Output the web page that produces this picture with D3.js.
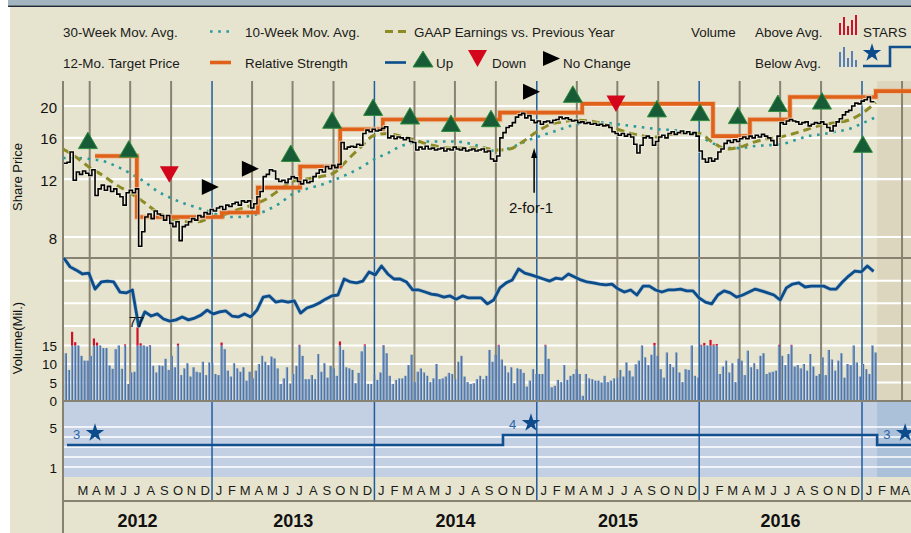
<!DOCTYPE html>
<html><head><meta charset="utf-8">
<script src="https://cdn.jsdelivr.net/npm/d3@7"></script>
<style>
body{margin:0;background:#fff}
svg{display:block}
text{font-family:"Liberation Sans",Arial,Helvetica,sans-serif}
</style>
</head><body>
<svg id="c" width="911" height="533"></svg>
<script>
// ---------------- DATA ----------------
const weekStart = "2012-02-03"; // weekly series (price, volume)
const weeklyClose = [
13.4,13.5,14.5,11.9,12.6,12.4,12.7,12.5,12.3,12.8,
10.7,11.2,11.5,11.1,11.4,11.0,11.2,10.8,10.6,10.0,
10.9,11.1,10.9,11.2,7.5,8.3,9.2,9.4,9.1,9.6,
9.4,9.3,9.0,9.3,8.8,8.6,8.9,7.8,8.6,8.7,
8.9,9.1,9.0,9.3,9.2,9.5,9.4,9.7,9.6,9.8,
9.9,9.7,10.0,9.9,10.1,10.2,10.0,10.3,10.2,10.3,
9.8,10.1,10.6,11.0,12.2,12.4,12.8,12.7,12.0,11.8,
11.9,11.7,12.0,12.2,12.1,11.8,11.6,11.9,11.7,11.8,
12.2,12.5,12.8,12.6,13.1,12.9,13.2,13.0,13.3,15.5,
14.8,15.0,15.1,15.0,15.3,15.2,16.5,16.9,16.7,17.0,
16.8,16.9,17.1,17.3,16.0,16.2,15.9,16.1,16.0,15.8,
16.0,15.6,15.5,14.7,15.0,14.8,15.1,14.8,14.9,14.7,
14.8,14.9,14.6,14.8,14.7,15.0,14.8,14.7,14.9,14.6,
14.7,14.8,14.6,14.7,14.8,14.5,14.6,13.8,13.6,14.1,
16.0,16.6,17.2,17.4,17.8,18.5,18.8,19.0,18.4,18.7,
18.1,17.8,18.0,17.6,17.9,18.0,17.8,18.1,18.2,18.5,
18.3,18.4,18.2,18.0,18.1,17.8,17.9,17.7,17.8,17.6,
17.7,17.5,17.6,17.4,17.5,17.2,16.7,16.5,16.3,16.5,
16.2,16.4,16.1,15.3,14.4,15.2,16.0,16.2,16.0,15.2,
15.6,16.1,16.3,16.0,16.5,16.7,16.4,16.6,16.8,16.5,
16.7,16.4,16.6,16.2,14.6,13.8,13.5,13.9,13.6,13.8,
14.5,14.8,15.4,15.7,15.5,15.8,15.6,15.9,16.1,15.9,
16.2,16.0,16.3,16.1,16.4,16.2,16.0,15.7,15.2,16.2,
17.8,17.6,18.0,18.2,18.0,17.9,17.6,17.8,17.9,17.4,
17.6,17.8,17.7,17.9,17.6,17.2,16.8,17.4,17.9,18.3,
18.8,19.2,19.4,20.0,20.4,20.3,20.7,20.9,21.3,20.6,20.5];
const weeklyVolume = [
12.9,8.4,18.7,15.9,15.0,12.2,10.9,10.9,12.2,16.9,15.8,15.0,14.3,14.3,9.6,8.7,14.0,15.0,8.7,15.3,
4.6,7.7,7.9,19.9,15.6,15.0,14.7,15.1,9.5,7.7,9.6,9.5,11.4,8.4,12.2,9.1,15.5,7.0,8.8,10.2,
6.6,9.1,7.9,7.7,10.6,7.0,10.4,10.2,7.3,7.0,15.8,14.0,8.2,6.6,10.2,8.8,7.9,9.1,5.5,7.9,
6.1,8.2,10.0,12.2,10.6,9.7,12.0,11.5,8.8,4.6,6.1,9.1,4.7,7.3,9.5,15.2,
12.2,5.9,5.9,7.0,5.9,12.7,7.9,10.2,6.3,9.5,8.8,6.8,16.1,13.8,9.1,8.8,8.4,4.8,7.6,13.4,
15.3,4.6,4.6,7.0,5.7,7.7,15.1,12.9,6.8,4.6,5.7,6.1,6.1,6.8,9.7,12.5,5.1,7.9,8.8,7.7,
6.8,5.1,6.1,10.0,5.9,6.1,6.6,7.6,7.3,5.9,10.6,12.2,6.6,5.1,4.6,4.8,5.9,6.8,5.9,6.8,
13.8,10.6,12.5,15.2,11.2,9.5,7.7,9.1,4.8,8.8,8.6,7.6,3.9,5.5,8.6,7.3,7.3,7.3,15.2,11.4,
3.7,4.1,5.7,5.1,9.7,5.7,6.8,7.3,8.6,7.3,1.4,7.3,6.1,5.9,5.5,5.5,
5.0,6.8,5.1,5.5,6.1,6.3,8.4,6.6,10.4,8.2,6.6,9.9,10.9,15.0,11.8,9.7,12.5,15.7,12.2,8.6,
6.3,13.1,10.0,9.1,13.1,7.7,5.1,8.6,8.4,15.0,6.8,6.3,15.2,15.7,15.0,16.5,15.3,15.4,7.3,9.3,
10.9,7.7,10.2,5.1,11.4,10.9,7.0,13.6,9.1,10.2,8.6,12.2,12.9,7.3,7.7,7.9,8.2,15.2,12.2,9.7,
12.7,15.2,9.3,9.7,8.8,10.0,8.2,12.7,9.3,6.8,7.3,11.8,7.0,13.8,11.2,8.2,10.9,12.9,6.3,10.0,
9.7,15.0,10.4,6.6,10.0,8.6,7.3,15.0,13.1];
const volumeCap = 15; // portion above drawn red (above avg.)

const rsStart = "2012-02-03"; // bi-weekly relative strength
const relStrength = [
100,97.0,95.9,94.6,94.9,89.5,91.9,92.2,91.9,88.5,
88.2,89.2,77.0,81.8,80.4,81.1,79.4,78.7,79.1,80.1,
79.1,79.7,80.7,82.4,81.1,81.8,82.1,80.4,80.1,81.1,
80.1,82.4,86.8,87.2,85.1,85.5,85.1,85.5,81.4,83.1,
83.8,84.8,86.1,87.2,87.5,92.9,91.9,91.6,92.2,95.3,
94.3,97.3,94.6,92.9,92.9,91.9,89.2,89.2,88.5,87.8,
87.5,86.8,87.2,86.1,87.2,86.5,86.5,86.5,84.5,85.8,
89.9,91.6,92.6,96.3,94.9,94.3,93.6,92.9,92.2,93.2,
92.9,94.6,93.6,92.6,91.9,91.6,91.2,90.9,91.2,89.5,
88.5,89.2,87.5,90.5,90.5,89.2,88.5,89.2,89.2,89.5,
88.9,88.9,86.5,85.1,84.5,87.5,88.9,88.2,86.8,87.5,
88.5,89.5,88.9,88.2,87.5,85.8,89.9,91.2,91.6,90.2,
90.5,90.5,90.5,89.5,89.5,91.9,93.9,95.6,95.3,97.3,95.5];
const rsLowLabel = "77";

const maStart = "2012-02-01"; // monthly moving averages
const movAvgSlow = [
13.9,13.9,13.8,13.6,13.1,12.5,11.8,11.0,10.5,10.1,9.8,9.5,
9.2,9.2,9.3,9.6,10.1,10.8,11.2,11.5,11.9,12.4,13.0,13.8,
14.4,15.1,15.5,15.6,15.6,15.6,15.4,15.0,14.6,14.9,15.5,16.1,
16.6,17.1,17.6,17.8,17.8,17.6,17.4,17.2,17.0,16.9,16.7,16.2,
15.4,14.9,14.9,15.1,15.2,15.3,15.7,16.2,16.4,16.7,17.0,17.7,18.5];
const movAvgFast = [
14.8,14.0,13.0,12.3,11.5,10.9,10.2,9.5,9.1,8.9,8.9,9.2,
9.4,9.7,10.0,10.4,11.1,11.8,12.0,12.2,12.5,13.7,15.0,16.3,
16.5,16.2,15.8,15.3,15.0,14.9,14.9,14.9,14.7,14.8,15.6,16.7,
17.6,17.9,18.1,18.0,17.6,17.0,16.5,16.2,16.1,16.4,16.6,16.5,
15.5,14.8,15.0,15.5,15.9,16.1,16.5,17.0,17.5,17.8,18.1,19.0,20.5];

const targetDates = ["2012-04-13","2012-07-16","2013-01-23","2013-04-14","2013-07-18","2013-10-16",
  "2014-01-20","2014-10-10","2015-04-13","2016-02-01","2016-04-24","2016-07-23","2017-02-01","2017-04-30"];
const targetValues = [14.1,9.2,9.5,11.3,13.1,17.0,18.2,19.1,20.3,16.2,18.2,21.3,22.2,22.2];

const markerDates = ["2012-03-28","2012-06-28","2012-09-27","2012-12-27","2013-03-27","2013-06-27",
  "2013-09-28","2013-12-29","2014-03-22","2014-06-22","2014-09-20","2014-12-19","2015-03-23",
  "2015-06-28","2015-09-28","2016-01-03","2016-03-28","2016-06-26","2016-10-03","2017-01-03"];
const markerTypes = ["up","up","down","none","none","up","up","up","up","up","up","none","up",
  "down","up","up","up","up","up","up"];
const markerPrices = [15.7,14.8,12.4,11.35,12.9,14.35,18.1,19.8,18.65,17.7,18.3,22.1,21.7,
  20.35,19.6,19.1,18.7,20.35,20.7,15.3];

const splitDate = "2014-12-26", splitLabel = "2-for-1", splitFrom = 10.9, splitTo = 14.9;

const starsDates = ["2012-02-10","2014-10-17","2017-02-04","2017-05-01"];
const starsValues = [3,4,3,3];
const forecastStart = "2017-02-04";

const priceTicks = [8,12,16,20];
const rsGrid = [92.3,84.7,77.0];
const volumeTicks = [0,5,10,15];
const starTicks = [1,5];
const starGrid = [1,2,3,4,5];
const monthLetters = ["J","F","M","A","M","J","J","A","S","O","N","D"];
const years = [2012,2013,2014,2015,2016];
const legendRow1 = ["30-Week Mov. Avg.","10-Week Mov. Avg.","GAAP Earnings vs. Previous Year","Volume","Above Avg.","STARS"];
const legendRow2 = ["12-Mo. Target Price","Relative Strength","Up","Down","No Change","Below Avg."];
const legendBarsAbove = [9,15,6,12,17];
const legendBarsBelow = [15,20,9,16,7];

// ---------------- SCALES ----------------
const parse = d3.utcParse("%Y-%m-%d");
const svg = d3.select("#c");
const x = d3.scaleUtc().domain([parse("2012-02-01"), parse("2017-01-01")]).range([63, 862]);
const yP = d3.scaleLog().domain([8, 20]).range([237, 106]);
const yRS = d3.scaleLinear().domain([75, 100]).range([332, 258]);
const yV = d3.scaleLinear().domain([0, 15]).range([401, 345.5]);
const yS = d3.scaleLinear().domain([1, 5]).range([467, 427]);
const L = 63, R = 911;
const P0 = 81, P1 = 258, V1 = 401, S1 = 477, M1 = 501;

const week = i => d3.utcDay.offset(parse(weekStart), 7 * i);
const priceData = weeklyClose.map((v, i) => ({d: week(i), v}));
const volData = weeklyVolume.map((v, i) => ({d: week(i), v}));
const rsData = relStrength.map((v, i) => ({d: d3.utcDay.offset(parse(rsStart), 14 * i), v}));
const maSlow = movAvgSlow.map((v, i) => ({d: d3.utcMonth.offset(parse(maStart), i), v}));
const maFast = movAvgFast.map((v, i) => ({d: d3.utcMonth.offset(parse(maStart), i), v}));
const xF = x(parse(forecastStart));

// ---------------- BACKGROUND ----------------
svg.append("rect").attr("width", 911).attr("height", 533).attr("fill", "#fff");
svg.append("rect").attr("x", 10).attr("y", 0).attr("width", 901).attr("height", 533).attr("fill", "#e6e4ce");
svg.append("rect").attr("x", 8).attr("y", 0).attr("width", 903).attr("height", 5.5).attr("fill", "#a3b5c0");
svg.append("line").attr("x1", 8).attr("x2", 911).attr("y1", 6.2).attr("y2", 6.2).attr("stroke", "#1d2b38").attr("stroke-width", 1.6);
svg.append("rect").attr("x", L).attr("y", V1 + 1).attr("width", R - L).attr("height", S1 - V1 - 1).attr("fill", "#c3cfe2");
svg.append("rect").attr("x", xF).attr("y", P0).attr("width", R - xF).attr("height", V1 - P0).attr("fill", "#ddd6bf");
svg.append("rect").attr("x", xF).attr("y", V1 + 1).attr("width", R - xF).attr("height", S1 - V1 - 1).attr("fill", "#abc0d9");

// horizontal white gridlines
const hLine = (y, w) => svg.append("line").attr("x1", L).attr("x2", R).attr("y1", y).attr("y2", y).attr("stroke", "#fff").attr("stroke-width", w);
priceTicks.forEach(t => hLine(yP(t), 2.2));
rsGrid.forEach(t => hLine(yRS(t), 2));
volumeTicks.filter(t => t > 0).forEach(t => hLine(yV(t), 2));
starGrid.forEach(t => hLine(yS(t), 1.6));

// vertical quarter / year lines
const quarters = d3.utcMonth.every(3).range(parse("2012-04-01"), parse("2017-05-01"));
quarters.forEach(q => {
  const xx = x(q);
  if (xx > R) return;
  if (q.getUTCMonth() === 0) {
    svg.append("line").attr("x1", xx).attr("x2", xx).attr("y1", P0).attr("y2", M1).attr("stroke", "#1f5e9e").attr("stroke-width", 1.5);
  } else {
    svg.append("line").attr("x1", xx).attr("x2", xx).attr("y1", P0).attr("y2", V1).attr("stroke", "#878272").attr("stroke-width", 2);
  }
});

// separators
const sep = (y) => svg.append("line").attr("x1", L).attr("x2", R).attr("y1", y).attr("y2", y).attr("stroke", "#878272").attr("stroke-width", 2);
sep(P1); sep(M1);
svg.append("line").attr("x1", L).attr("x2", L).attr("y1", P0).attr("y2", 533).attr("stroke", "#878272").attr("stroke-width", 2);

// ---------------- VOLUME ----------------
const gV = svg.append("g");
volData.forEach(o => {
  const bx = x(o.d) + 0.9;
  const top = yV(Math.min(o.v, volumeCap));
  gV.append("rect").attr("x", bx).attr("y", top).attr("width", 2.2).attr("height", V1 - top).attr("fill", "#4c74aa");
  gV.append("rect").attr("x", bx).attr("y", top).attr("width", 0.7).attr("height", V1 - top).attr("fill", "#9ab3d4");
  if (o.v > volumeCap) {
    gV.append("rect").attr("x", bx).attr("y", yV(o.v)).attr("width", 2.2).attr("height", top - yV(o.v)).attr("fill", "#d0102a");
  }
});
sep(V1);

// ---------------- RELATIVE STRENGTH ----------------
const rsLine = d3.line().x(d => x(d.d)).y(d => yRS(d.v)).curve(d3.curveLinear);
svg.append("path").datum(rsData).attr("d", rsLine).attr("fill", "none").attr("stroke", "#9fb6cf").attr("stroke-width", 4.2).attr("stroke-linejoin", "round").attr("opacity", 0.6);
svg.append("path").datum(rsData).attr("d", rsLine).attr("fill", "none").attr("stroke", "#0b4c8a").attr("stroke-width", 2.8).attr("stroke-linejoin", "round");
const rsMin = rsData.reduce((a, b) => b.v < a.v ? b : a);
svg.append("text").attr("x", x(rsMin.d) - 2).attr("y", yRS(rsMin.v) + 1).attr("text-anchor", "middle")
  .attr("font-size", 14).attr("fill", "#111").text(rsLowLabel);

// ---------------- PRICE PANEL ----------------
const maLine = d3.line().x(d => x(d.d)).y(d => yP(d.v)).curve(d3.curveMonotoneX);
svg.append("path").datum(maSlow).attr("d", maLine).attr("fill", "none").attr("stroke", "#2a9a9c").attr("stroke-width", 2.6).attr("stroke-dasharray", "2.6 5.6");
svg.append("path").datum(maFast).attr("d", maLine).attr("fill", "none").attr("stroke", "#8d8b25").attr("stroke-width", 3).attr("stroke-dasharray", "8 5");

const tgt = targetDates.map((d, i) => ({d: parse(d), v: targetValues[i]}));
const tgtLine = d3.line().x(d => Math.min(x(d.d), R)).y(d => yP(d.v)).curve(d3.curveStepAfter);
svg.append("path").datum(tgt).attr("d", tgtLine).attr("fill", "none").attr("stroke", "#f0a070").attr("stroke-width", 5.5).attr("opacity", 0.45);
svg.append("path").datum(tgt).attr("d", tgtLine).attr("fill", "none").attr("stroke", "#e0621a").attr("stroke-width", 3.6);

const pLine = d3.line().x(d => x(d.d)).y(d => yP(d.v)).curve(d3.curveStepAfter);
svg.append("path").datum(priceData).attr("d", pLine).attr("fill", "none").attr("stroke", "#f4f2e6").attr("stroke-width", 3.4).attr("opacity", 0.7);
svg.append("path").datum(priceData).attr("d", pLine).attr("fill", "none").attr("stroke", "#000").attr("stroke-width", 1.6);

// markers
markerDates.forEach((d, i) => {
  const cx = x(parse(d)), cy = yP(markerPrices[i]), t = markerTypes[i];
  let pts, fill, stroke = "none";
  if (t === "up") { pts = [[cx, cy - 8.5], [cx + 9.5, cy + 8], [cx - 9.5, cy + 8]]; fill = "#175c37"; stroke = "#2f8c3d"; }
  else if (t === "down") { pts = [[cx - 9.5, cy - 8], [cx + 9.5, cy - 8], [cx, cy + 8.5]]; fill = "#d3061c"; }
  else { pts = [[cx - 8, cy - 8], [cx + 9, cy], [cx - 8, cy + 8]]; fill = "#000"; }
  svg.append("path").attr("d", "M" + pts.map(p => p.join(",")).join("L") + "Z").attr("fill", fill).attr("stroke", stroke).attr("stroke-width", 1);
});

// split annotation
const sx = x(parse(splitDate));
svg.append("line").attr("x1", sx).attr("x2", sx).attr("y1", yP(splitFrom)).attr("y2", yP(splitTo) + 8).attr("stroke", "#000").attr("stroke-width", 1.5);
svg.append("path").attr("d", `M${sx},${yP(splitTo)}L${sx + 3},${yP(splitTo) + 10}L${sx - 3},${yP(splitTo) + 10}Z`).attr("fill", "#000");
svg.append("text").attr("x", sx - 3).attr("y", yP(splitFrom) + 20).attr("text-anchor", "middle").attr("font-size", 15).attr("fill", "#111").text(splitLabel);

// ---------------- STARS ----------------
const st = starsDates.map((d, i) => ({d: parse(d), v: starsValues[i]}));
const stLine = d3.line().x(d => Math.min(x(d.d), R)).y(d => yS(d.v) - 2).curve(d3.curveStepAfter);
svg.append("path").datum(st).attr("d", stLine).attr("fill", "none").attr("stroke", "#114f8e").attr("stroke-width", 2.6);
st.slice(0, 3).forEach(o => {
  const sx0 = x(o.d), sy0 = yS(o.v) - 2;
  svg.append("text").attr("x", sx0 + 6).attr("y", sy0 - 6).attr("font-size", 13).attr("fill", "#2a66a8").text(o.v);
  svg.append("path").attr("d", d3.symbol(d3.symbolStar, 105)()).attr("transform", `translate(${sx0 + 28},${sy0 - 12})`).attr("fill", "#0d4c8c");
});

// ---------------- AXES LABELS ----------------
const tl = (y, t, fs) => svg.append("text").attr("x", 57).attr("y", y).attr("text-anchor", "end").attr("dominant-baseline", "central").attr("font-size", fs).attr("fill", "#111").text(t);
priceTicks.forEach(t => tl(yP(t) + 1, t, 15));
volumeTicks.forEach(t => tl(yV(t) + 0.5, t, 13.5));
starTicks.forEach(t => tl(yS(t) + 1, t, 13.5));
svg.append("text").attr("transform", "translate(21.5,177) rotate(-90)").attr("text-anchor", "middle").attr("font-size", 13).attr("fill", "#111").text("Share Price");
svg.append("text").attr("transform", "translate(21.5,338) rotate(-90)").attr("text-anchor", "middle").attr("font-size", 13).attr("fill", "#111").text("Volume(Mil.)");

// months
d3.utcMonth.range(parse("2012-03-01"), parse("2017-05-01")).forEach(m => {
  const cx = (x(m) + x(d3.utcMonth.offset(m, 1))) / 2;
  if (cx > R + 2) return;
  svg.append("text").attr("x", Math.min(cx, R - 5.5)).attr("y", 494.5).attr("text-anchor", "middle").attr("font-size", 13).attr("fill", "#1a1a1a").text(monthLetters[m.getUTCMonth()]);
});
years.forEach(yr => {
  const a = Math.max(x(parse(yr + "-01-01")), L), b = x(parse((yr + 1) + "-01-01"));
  svg.append("text").attr("x", (a + b) / 2).attr("y", 527).attr("text-anchor", "middle").attr("font-size", 18).attr("font-weight", "bold").attr("fill", "#111").text(yr);
});

// ---------------- LEGEND ----------------
const lt = (xx, y, t) => svg.append("text").attr("x", xx).attr("y", y).attr("font-size", 13.4).attr("fill", "#1a1a1a").text(t);
const r1 = 37, r2 = 68;
lt(63, r1, legendRow1[0]); lt(245, r1, legendRow1[1]); lt(414, r1, legendRow1[2]);
lt(691, r1, legendRow1[3]); lt(755, r1, legendRow1[4]); lt(863, r1, legendRow1[5]);
lt(63, r2, legendRow2[0]); lt(245, r2, legendRow2[1]); lt(436, r2, legendRow2[2]);
lt(492, r2, legendRow2[3]); lt(563, r2, legendRow2[4]); lt(755, r2, legendRow2[5]);
svg.append("line").attr("x1", 210).attr("x2", 230).attr("y1", 31.5).attr("y2", 31.5).attr("stroke", "#2a9a9c").attr("stroke-width", 2.6).attr("stroke-dasharray", "2.6 5.6");
svg.append("line").attr("x1", 385).attr("x2", 407).attr("y1", 31.5).attr("y2", 31.5).attr("stroke", "#8d8b25").attr("stroke-width", 3).attr("stroke-dasharray", "8 5");
svg.append("line").attr("x1", 210).attr("x2", 231).attr("y1", 62.5).attr("y2", 62.5).attr("stroke", "#e0621a").attr("stroke-width", 3.6);
svg.append("line").attr("x1", 385).attr("x2", 406).attr("y1", 62.5).attr("y2", 62.5).attr("stroke", "#0b4c8a").attr("stroke-width", 2.6);
svg.append("path").attr("d", "M423,51L433,67L413,67Z").attr("fill", "#175c37").attr("stroke", "#2f8c3d");
svg.append("path").attr("d", "M468,50L487,50L477.5,67Z").attr("fill", "#d3061c");
svg.append("path").attr("d", "M543,51L560,58.5L543,66Z").attr("fill", "#000");
legendBarsAbove.forEach((h, i) => svg.append("rect").attr("x", 839 + i * 4).attr("y", 35 - h - 3).attr("width", 2).attr("height", h + 3).attr("fill", "#d0102a"));
legendBarsBelow.forEach((h, i) => svg.append("rect").attr("x", 839 + i * 4).attr("y", 67 - h).attr("width", 2).attr("height", h).attr("fill", "#5a80b3"));
svg.append("path").attr("d", d3.symbol(d3.symbolStar, 105)()).attr("transform", "translate(872,53)").attr("fill", "#0d4c8c");
svg.append("path").attr("d", "M863,66H890V47H911").attr("fill", "none").attr("stroke", "#114f8e").attr("stroke-width", 2.6);
</script>
</body></html>
